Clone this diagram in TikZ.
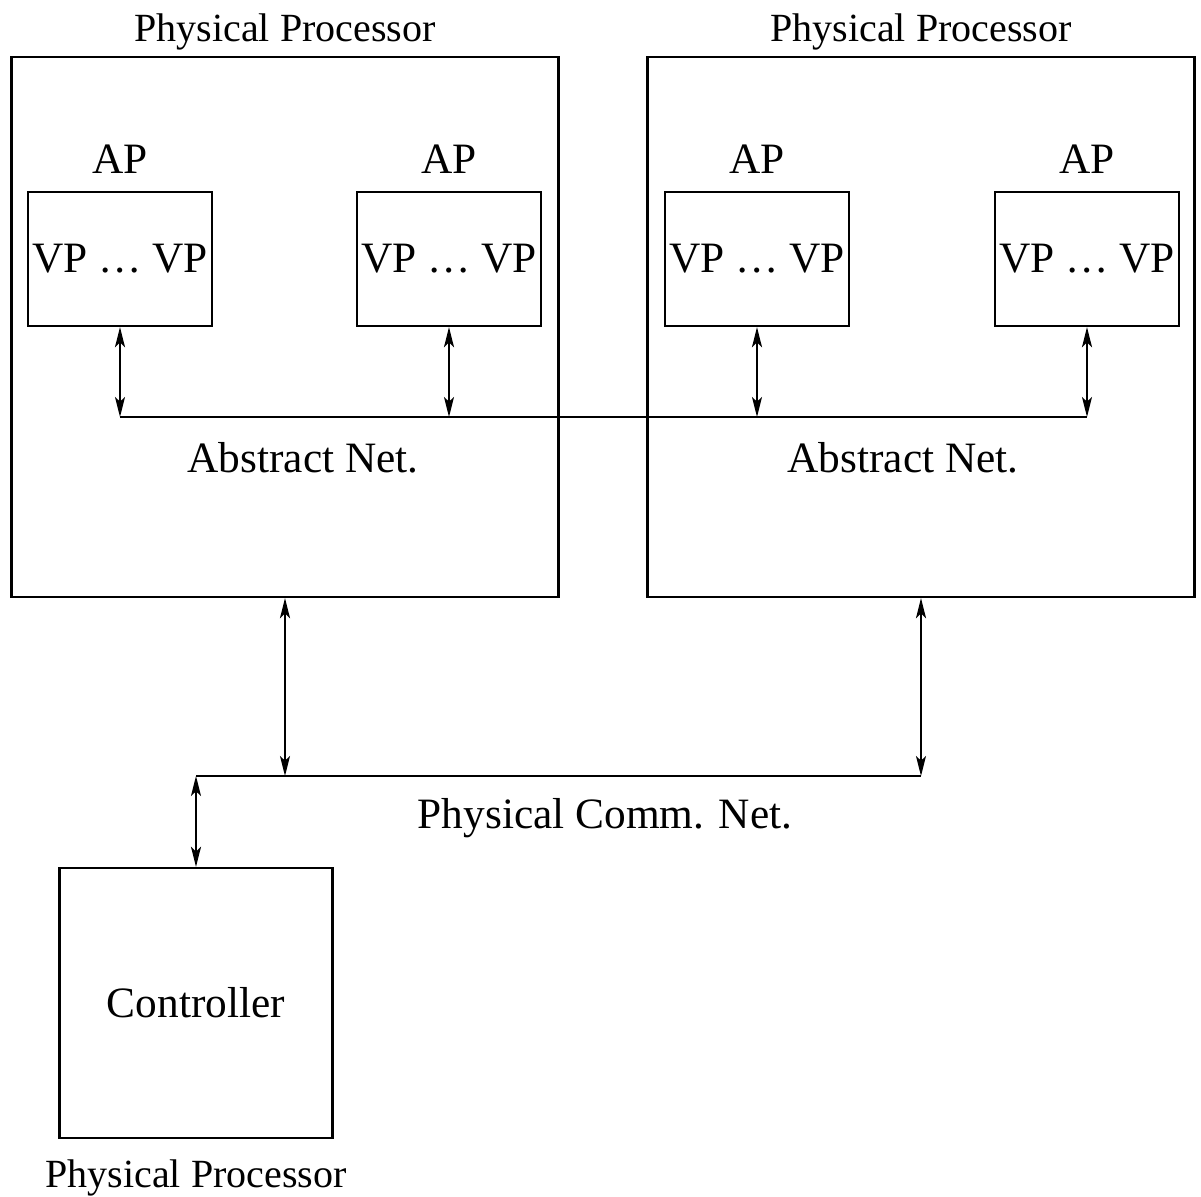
\documentclass[tikz,border=0pt]{standalone}
\usepackage{fontspec}
\setmainfont{Liberation Serif}
\usetikzlibrary{arrows.meta,positioning}

\begin{document}
\begin{tikzpicture}[x=0.3pt, y=-0.3pt, >={Stealth[length=6pt,width=3pt,inset=1.4pt]}, every node/.style={font=\fontsize{13}{15}\selectfont}, pbox/.style={draw, line width=0.7pt, minimum width=164.1pt, minimum height=162pt, inner sep=0pt}, apbox/.style={draw, line width=0.7pt, minimum width=55.2pt, minimum height=40.2pt, inner sep=0pt}, cbox/.style={draw, line width=0.7pt, minimum width=81.9pt, minimum height=81pt}, lbl/.style={font=\fontsize{12}{14}\selectfont, inner sep=0pt}, bus/.style={line width=0.6pt}, link/.style={<->, line width=0.6pt}]
\useasboundingbox (0,0) rectangle (1201,1197);
\node[pbox] (pp1) at (285,327) {};
\node[pbox] (pp2) at (921,327) {};
\node[lbl, above=1.5pt of pp1] (t1) {Physical Processor};
\node[lbl, above=1.5pt of pp2] (t2) {Physical Processor};
\node[apbox] (ap1) at (120,259) {VP \dots{} VP};
\node[apbox] (ap2) at (449,259) {VP \dots{} VP};
\node[apbox] (ap3) at (757,259) {VP \dots{} VP};
\node[apbox] (ap4) at (1087,259) {VP \dots{} VP};
\foreach \n in {1,...,4}
  \node[inner sep=0pt, above=5pt of ap\n] (apl\n) {AP};
% abstract network
\coordinate (an1) at (120,417);
\coordinate (an4) at (1087,417);
\draw[bus] (an1) -- (an4);
\foreach \n in {1,...,4}
  \draw[link] (ap\n) -- (ap\n |- an1);
\node (anl1) at (303,458) {Abstract Net.};
\node (anl2) at (903,458) {Abstract Net.};
% physical network
\node[cbox] (ctrl) at (196,1003) {Controller};
\node[lbl, below=6pt of ctrl] (t3) {Physical Processor};
\coordinate (pn0) at (196,776);
\coordinate (pn2) at (921,776);
\draw[bus] (pn0) -- (pn2);
\draw[link] (pp1) -- (pp1 |- pn0);
\draw[link] (pp2) -- (pp2 |- pn0);
\draw[link] (pn0) -- (ctrl);
\node (pnl) at (605,818) {Physical Comm. Net.};
\end{tikzpicture}
\end{document}
